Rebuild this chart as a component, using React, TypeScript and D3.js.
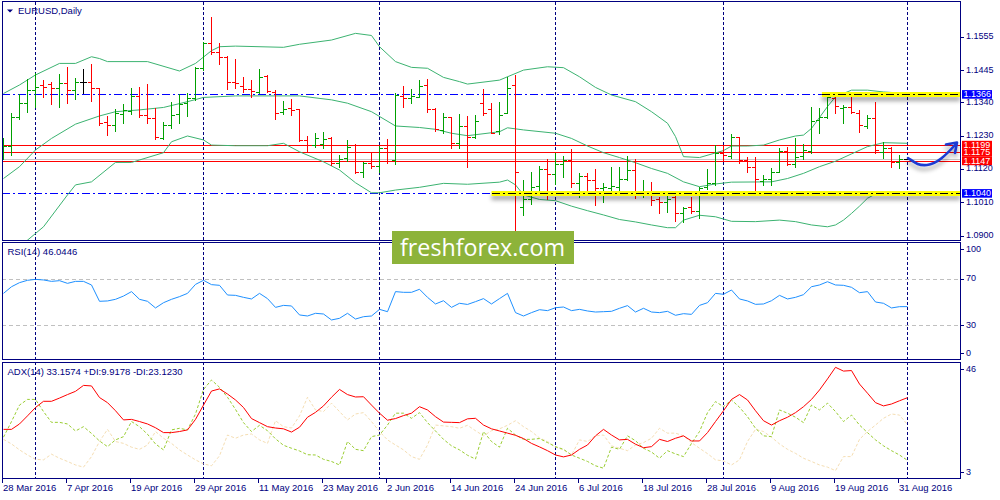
import { useEffect, useRef } from "react"
import * as d3 from "d3"

// EURUSD daily bars, 28 Mar 2016 .. 1 Sep 2016 (index 0..113)
const open = [
  1.1177, 1.1197, 1.129, 1.1337, 1.138, 1.1397, 1.14, 1.1386, 1.1402, 1.138,
  1.1408, 1.1408, 1.1386, 1.1276, 1.1265, 1.1301, 1.1312, 1.1361, 1.1298, 1.1287,
  1.1222, 1.1265, 1.1301, 1.1339, 1.1353, 1.1452, 1.1536, 1.1507, 1.1488, 1.1408,
  1.1394, 1.1383, 1.1374, 1.1427, 1.1375, 1.1309, 1.132, 1.1317, 1.1216, 1.1199,
  1.1203, 1.1221, 1.1141, 1.1155, 1.1198, 1.1111, 1.1139, 1.1131, 1.1191, 1.115,
  1.1361, 1.1353, 1.1358, 1.1396, 1.1317, 1.1249, 1.129, 1.1205, 1.1262, 1.1227,
  1.1339, 1.1317, 1.1246, 1.1306, 1.1397, 1.0996, 1.102, 1.1064, 1.1119, 1.1104,
  1.1137, 1.115, 1.1075, 1.1097, 1.1084, 1.1057, 1.1057, 1.106, 1.1089, 1.1117,
  1.1038, 1.1046, 1.102, 1.1013, 1.1027, 1.0974, 1.0994, 1.0983, 1.106, 1.1073,
  1.1174, 1.1163, 1.1225, 1.115, 1.1128, 1.1082, 1.1086, 1.1111, 1.1181, 1.1137,
  1.1163, 1.1181, 1.1282, 1.129, 1.1355, 1.132, 1.1326, 1.1306, 1.1262, 1.1287,
  1.1177, 1.1188, 1.1142, 1.1154,
]
const high = [
  1.1221, 1.1304, 1.1366, 1.1416, 1.1438, 1.1413, 1.1408, 1.1433, 1.1457, 1.1419,
  1.1451, 1.1466, 1.1388, 1.1295, 1.1317, 1.1334, 1.1386, 1.1389, 1.14, 1.132,
  1.1276, 1.1342, 1.1366, 1.1369, 1.1457, 1.154, 1.1622, 1.1534, 1.1492, 1.1481,
  1.1422, 1.1413, 1.145, 1.143, 1.138, 1.1344, 1.135, 1.1319, 1.1229, 1.124,
  1.1243, 1.1227, 1.1166, 1.1216, 1.1203, 1.1142, 1.1174, 1.1196, 1.1218, 1.1372,
  1.1394, 1.1383, 1.1413, 1.1416, 1.132, 1.1306, 1.1293, 1.1301, 1.1295, 1.1298,
  1.1383, 1.1337, 1.1341, 1.1424, 1.143, 1.1084, 1.1111, 1.113, 1.1152, 1.1174,
  1.1163, 1.1186, 1.1108, 1.1106, 1.1119, 1.1075, 1.1128, 1.1128, 1.1163, 1.1152,
  1.1084, 1.1078, 1.1027, 1.1042, 1.1038, 1.0996, 1.1027, 1.1062, 1.1119, 1.1199,
  1.1196, 1.1234, 1.1227, 1.1161, 1.1161, 1.11, 1.1122, 1.1188, 1.1194, 1.1221,
  1.1203, 1.1326, 1.132, 1.1367, 1.1364, 1.1331, 1.1358, 1.1315, 1.1298, 1.1342,
  1.121, 1.1194, 1.1166, 1.1156,
]
const low = [
  1.1152, 1.1168, 1.1284, 1.1309, 1.1326, 1.1358, 1.1334, 1.1326, 1.1339, 1.135,
  1.1372, 1.1345, 1.1265, 1.1232, 1.1246, 1.1271, 1.1301, 1.129, 1.1271, 1.1218,
  1.1218, 1.1254, 1.1273, 1.1295, 1.1348, 1.1446, 1.1499, 1.1466, 1.1384, 1.1386,
  1.1374, 1.1358, 1.1369, 1.1374, 1.1284, 1.1301, 1.1298, 1.1214, 1.1176, 1.1194,
  1.1188, 1.1133, 1.1126, 1.1148, 1.1108, 1.1095, 1.1122, 1.1111, 1.1139, 1.1136,
  1.1326, 1.1339, 1.1356, 1.1309, 1.1246, 1.124, 1.1188, 1.1188, 1.1128, 1.1221,
  1.1298, 1.1238, 1.1235, 1.1306, 1.0917, 1.0969, 1.1005, 1.1042, 1.102, 1.1071,
  1.1093, 1.106, 1.1027, 1.1038, 1.1002, 1.1013, 1.1049, 1.1051, 1.1084, 1.1024,
  1.1029, 1.1002, 1.0976, 1.098, 1.095, 1.0947, 1.0974, 1.0958, 1.1053, 1.1068,
  1.1148, 1.1155, 1.1141, 1.1111, 1.1042, 1.1068, 1.1068, 1.1109, 1.1133, 1.1128,
  1.1152, 1.1174, 1.124, 1.1287, 1.1304, 1.1271, 1.1304, 1.1243, 1.1254, 1.1174,
  1.1155, 1.1128, 1.1122, 1.1152,
]
const close = [
  1.1197, 1.129, 1.1337, 1.138, 1.1389, 1.1389, 1.1386, 1.1402, 1.138, 1.1408,
  1.1408, 1.1386, 1.1271, 1.1265, 1.1306, 1.1315, 1.1361, 1.1298, 1.1287, 1.1225,
  1.1265, 1.1298, 1.1334, 1.1353, 1.1452, 1.1536, 1.1507, 1.1488, 1.1408, 1.1405,
  1.1383, 1.1378, 1.1424, 1.1378, 1.1306, 1.1317, 1.1315, 1.1216, 1.1199, 1.1221,
  1.1218, 1.1139, 1.1152, 1.1194, 1.1111, 1.1139, 1.1131, 1.119, 1.1148, 1.1364,
  1.1355, 1.1361, 1.1394, 1.1317, 1.1251, 1.1293, 1.1205, 1.1262, 1.1227, 1.1279,
  1.1306, 1.124, 1.1298, 1.1386, 1.1109, 1.102, 1.1062, 1.1119, 1.1104, 1.1137,
  1.115, 1.1075, 1.1097, 1.1084, 1.1057, 1.1062, 1.1064, 1.1089, 1.1117, 1.1038,
  1.1046, 1.1018, 1.1013, 1.1022, 1.0976, 1.0991, 1.0983, 1.1057, 1.1073, 1.1174,
  1.1165, 1.1225, 1.115, 1.1128, 1.1086, 1.1089, 1.1111, 1.1181, 1.1137, 1.1161,
  1.1183, 1.1279, 1.129, 1.1358, 1.1328, 1.1326, 1.1309, 1.1265, 1.1287, 1.1183,
  1.1188, 1.1144, 1.1154, 1.1154,
]

// Bollinger bands: [bar index, price]
const bbUpper: [number, number][] = [
  [0, 1.1369], [2, 1.1397], [4, 1.143], [7, 1.1468], [9, 1.1468], [11, 1.149], [12, 1.1484],
  [13, 1.1474], [18, 1.1474], [22, 1.1443], [24, 1.1468], [26, 1.151], [27, 1.1523], [29, 1.1525],
  [35, 1.1521], [37, 1.1531], [41, 1.1545], [44, 1.1567], [46, 1.156], [47, 1.1523], [49, 1.1474],
  [51, 1.1455], [53, 1.1452], [55, 1.1422], [57, 1.1408], [58, 1.14], [62, 1.1413], [65, 1.1446],
  [68, 1.1457], [70, 1.1454], [72, 1.1424], [74, 1.1389], [76, 1.1364], [79, 1.1342], [81, 1.1309],
  [83, 1.1271], [84, 1.1227], [85, 1.1161], [87, 1.1158], [90, 1.1181], [91, 1.1196], [93, 1.1196],
  [95, 1.1199], [97, 1.1216], [99, 1.1229], [100, 1.1232], [101, 1.1254], [103, 1.1326],
  [104, 1.1358], [106, 1.138], [108, 1.138], [110, 1.1374], [113, 1.1369],
]
const bbMiddle: [number, number][] = [
  [0, 1.1089], [2, 1.1128], [4, 1.1183], [6, 1.1221], [9, 1.1268], [12, 1.1295], [14, 1.1309],
  [17, 1.1315], [20, 1.1323], [23, 1.1342], [25, 1.1356], [29, 1.1361], [37, 1.1361], [41, 1.1348],
  [43, 1.1337], [46, 1.1309], [49, 1.1262], [52, 1.1257], [54, 1.1251], [56, 1.1238], [58, 1.123],
  [62, 1.1243], [63, 1.1256], [65, 1.1249], [69, 1.1238], [71, 1.1221], [73, 1.1196], [75, 1.1174],
  [77, 1.1158], [79, 1.1141], [81, 1.1122], [83, 1.1106], [85, 1.1078], [87, 1.1062], [89, 1.1071],
  [91, 1.1077], [96, 1.1078], [98, 1.1089], [100, 1.1106], [102, 1.1128], [104, 1.1146],
  [106, 1.117], [108, 1.1194], [110, 1.1207], [113, 1.1205],
]
const bbLower: [number, number][] = [
  [0, 1.0826], [3, 1.0886], [5, 1.093], [8, 1.1035], [9, 1.1068], [11, 1.1078], [14, 1.1142],
  [16, 1.1142], [17, 1.115], [20, 1.1174], [21, 1.121], [23, 1.1229], [25, 1.1216], [26, 1.1199],
  [29, 1.1197], [33, 1.1197], [35, 1.1205], [37, 1.1177], [40, 1.1144], [42, 1.1117], [44, 1.1075],
  [46, 1.1042], [47, 1.1042], [49, 1.1051], [52, 1.106], [55, 1.1073], [58, 1.107], [62, 1.1077],
  [63, 1.1084], [64, 1.1068], [65, 1.1035], [67, 1.102], [69, 1.1016], [71, 1.0998], [73, 1.0983],
  [75, 1.0969], [77, 1.0954], [79, 1.0946], [81, 1.0936], [83, 1.0927], [84, 1.0927], [85, 1.0952],
  [87, 1.0968], [89, 1.0963], [91, 1.0948], [94, 1.0947], [97, 1.0952], [99, 1.0947], [101, 1.0936],
  [103, 1.093], [104, 1.0936], [105, 1.0952], [106, 1.0974], [107, 1.0998], [108, 1.1024],
  [109, 1.1038], [110, 1.1044], [113, 1.104],
]

const rsi = [
  57.4, 63.1, 66.6, 68.6, 69.4, 68.9, 67.7, 68.3, 66.0, 67.7,
  67.7, 64.6, 50.6, 50.9, 52.3, 55.1, 58.9, 52.3, 50.6, 44.9,
  49.4, 52.3, 54.6, 57.4, 65.1, 68.6, 64.9, 64.3, 56.0, 55.7,
  54.0, 52.6, 57.4, 52.9, 45.4, 47.1, 46.6, 38.9, 38.0, 40.3,
  39.7, 34.6, 36.0, 40.3, 35.4, 37.4, 38.0, 43.7, 41.7, 58.9,
  58.3, 58.3, 60.9, 54.0, 48.3, 51.1, 45.4, 48.9, 47.9, 50.3,
  52.9, 48.3, 52.9, 57.4, 40.9, 38.0, 40.9, 43.4, 42.6, 45.1,
  45.7, 42.6, 43.7, 42.3, 41.4, 41.7, 42.0, 44.6, 46.9, 41.4,
  44.6, 41.4, 40.9, 42.0, 38.6, 40.0, 39.4, 47.1, 49.4, 57.4,
  56.6, 60.3, 52.6, 50.9, 48.0, 48.3, 51.1, 55.7, 52.6, 54.0,
  56.3, 63.1, 64.6, 67.4, 64.6, 64.3, 62.6, 58.0, 58.9, 50.0,
  48.9, 44.9, 46.0, 46.0446,
]
const adx = [
  21.4, 21.4, 23.4, 26.4, 29.5, 31.8, 31.8, 33.0, 34.3, 35.5,
  37.7, 37.5, 33.2, 31.3, 28.3, 24.9, 25.1, 24.3, 23.4, 22.0,
  20.2, 20.2, 20.6, 21.2, 25.1, 30.4, 35.6, 36.4, 34.5, 32.3,
  29.5, 25.4, 23.9, 22.4, 21.9, 21.6, 20.4, 22.2, 25.9, 27.7,
  30.1, 33.3, 36.2, 34.3, 33.4, 33.5, 30.4, 27.4, 24.8, 25.4,
  26.5, 27.4, 29.8, 28.6, 26.1, 24.1, 24.0, 23.9, 25.3, 25.5,
  23.0, 21.6, 20.8, 20.0, 19.2, 18.0, 16.2, 14.9, 13.5, 11.9,
  11.2, 11.9, 14.0, 15.6, 19.0, 21.4, 19.3, 17.5, 17.7, 15.9,
  14.6, 15.0, 17.7, 16.9, 18.1, 19.0, 17.1, 17.1, 20.2, 24.3,
  28.3, 32.5, 34.3, 32.3, 28.3, 24.6, 23.0, 24.6, 25.9, 27.6,
  29.8, 32.5, 36.0, 40.1, 44.4, 43.0, 43.2, 38.2, 34.8, 31.3,
  30.1, 30.8, 32.0, 33.1574,
]
const plusDi = [
  18.5, 24.3, 30.4, 32.5, 32.5, 28.0, 24.0, 24.0, 23.4, 20.8,
  22.4, 19.9, 17.1, 15.0, 17.5, 18.7, 24.3, 22.4, 19.6, 16.0,
  13.8, 21.2, 21.8, 21.2, 27.1, 36.2, 39.7, 37.0, 33.3, 28.8,
  23.9, 20.6, 22.9, 20.9, 17.9, 15.5, 14.4, 13.4, 12.0, 11.9,
  10.3, 9.5, 8.2, 16.9, 14.0, 13.5, 18.7, 19.3, 23.0, 27.4,
  27.4, 25.5, 27.6, 23.9, 20.8, 17.7, 15.3, 13.8, 11.8, 10.4,
  20.6, 16.9, 14.8, 21.8, 19.3, 17.7, 17.7, 18.0, 16.5, 15.0,
  14.0, 11.9, 10.7, 9.5, 7.9, 7.0, 14.8, 14.0, 19.0, 17.2,
  14.4, 13.0, 10.7, 13.5, 12.3, 11.3, 16.2, 20.6, 27.6, 31.7,
  29.8, 32.3, 29.6, 26.1, 21.8, 19.0, 18.7, 28.6, 27.4, 25.9,
  23.9, 30.4, 28.6, 31.1, 28.0, 24.3, 26.7, 23.0, 20.2, 17.5,
  15.3, 13.5, 11.9, 9.9178,
]
const minusDi = [
  17.7, 16.0, 13.8, 11.9, 10.3, 10.1, 12.2, 10.7, 9.5, 8.2,
  7.4, 11.3, 16.9, 21.4, 16.9, 16.2, 14.8, 14.0, 15.6, 20.6,
  18.1, 16.2, 13.8, 11.9, 10.1, 8.6, 7.9, 11.6, 19.3, 18.1,
  19.3, 19.7, 17.5, 16.2, 24.6, 22.4, 21.9, 26.4, 33.3, 28.6,
  28.0, 31.1, 28.0, 24.9, 27.1, 27.6, 24.3, 20.6, 17.5, 15.6,
  13.8, 11.3, 10.3, 15.6, 23.0, 22.7, 22.4, 21.8, 22.9, 20.9,
  19.0, 20.9, 21.6, 22.9, 24.6, 22.4, 20.6, 18.2, 16.9, 14.8,
  13.8, 11.9, 17.5, 16.9, 19.0, 19.3, 15.3, 14.4, 13.5, 15.6,
  16.5, 18.1, 21.8, 20.0, 20.0, 19.0, 16.5, 14.4, 12.4, 10.1,
  9.7, 8.2, 10.1, 16.9, 21.4, 20.6, 18.5, 16.0, 14.0, 12.5,
  10.7, 9.5, 8.2, 7.4, 6.1, 11.3, 11.3, 17.7, 20.6, 23.0,
  25.5, 27.1, 26.7, 23.123,
]

const dateLabels = [
  "28 Mar 2016", "7 Apr 2016", "19 Apr 2016", "29 Apr 2016", "11 May 2016",
  "23 May 2016", "2 Jun 2016", "14 Jun 2016", "24 Jun 2016", "6 Jul 2016",
  "18 Jul 2016", "28 Jul 2016", "9 Aug 2016", "19 Aug 2016", "31 Aug 2016",
]
const monthStarts = [4, 25, 47, 69, 90, 113]
const priceTicks = [1.1555, 1.1445, 1.134, 1.123, 1.112, 1.101, 1.09]
const rsiTicks = [100, 70, 30, 0]
const rsiLevels = [70, 30]
const adxTicks = [46, 3]
const blueLevels = [1.1366, 1.104]
const redLevels = [1.1199, 1.1175, 1.1147]
const bidPrice = 1.1154
// yellow marker over a level: [price, first bar]
const highlights: [number, number][] = [[1.1366, 102.3], [1.104, 61]]

export default function App() {
  const svgRef = useRef<SVGSVGElement>(null)

  useEffect(() => {
    if (!svgRef.current) return
    document.body.style.margin = "0"

    const svg = d3.select(svgRef.current)
    svg.selectAll("*").remove()

    const left = 2
    const right = 960
    const navy = "#000080"
    const font = "'Liberation Sans', Arial, sans-serif"
    const idx = d3.range(open.length)

    const x = d3.scaleLinear().domain([0, 113]).range([3.5, 907.5])
    const yPrice = d3.scaleLinear().domain([1.09, 1.1555]).range([235.9, 37])
    const yRsi = d3.scaleLinear().domain([0, 100]).range([360.3, 243.7])
    const yAdx = d3.scaleLinear().domain([3, 46]).range([479, 363])
    const px = (v: number) => Math.round(v) + 0.5

    const panels = [
      { id: "clipMain", top: 2, bottom: 240 },
      { id: "clipRsi", top: 243, bottom: 359 },
      { id: "clipAdx", top: 363, bottom: 478 },
    ]

    const defs = svg.append("defs")
    panels.forEach((p) => {
      defs
        .append("clipPath")
        .attr("id", p.id)
        .append("rect")
        .attr("x", left + 1)
        .attr("y", p.top)
        .attr("width", right - left - 1)
        .attr("height", p.bottom - p.top)
    })
    const shadow = defs
      .append("filter")
      .attr("id", "shadow")
      .attr("x", "-10%")
      .attr("y", "-100%")
      .attr("width", "120%")
      .attr("height", "400%")
    shadow
      .append("feDropShadow")
      .attr("dx", 0)
      .attr("dy", 4)
      .attr("stdDeviation", 2)
      .attr("flood-color", "#000")
      .attr("flood-opacity", 0.35)

    svg.append("rect").attr("width", 1000).attr("height", 500).attr("fill", "#fff")

    // month separators
    svg
      .append("g")
      .attr("shape-rendering", "crispEdges")
      .selectAll("line")
      .data(monthStarts)
      .join("line")
      .attr("x1", (d) => x(d))
      .attr("x2", (d) => x(d))
      .attr("y1", 2)
      .attr("y2", 479)
      .attr("stroke", navy)
      .attr("stroke-dasharray", "3,2")

    // ---------- price panel ----------
    const gMain = svg.append("g").attr("clip-path", "url(#clipMain)")

    gMain
      .append("line")
      .attr("x1", left)
      .attr("x2", right)
      .attr("y1", px(yPrice(bidPrice)))
      .attr("y2", px(yPrice(bidPrice)))
      .attr("stroke", "#c8c8c8")
      .attr("shape-rendering", "crispEdges")

    gMain
      .selectAll(".blue")
      .data(blueLevels)
      .join("line")
      .attr("x1", left)
      .attr("x2", right)
      .attr("y1", (d) => px(yPrice(d)))
      .attr("y2", (d) => px(yPrice(d)))
      .attr("stroke", "#0000ff")
      .attr("stroke-dasharray", "8,3,2,3")
      .attr("shape-rendering", "crispEdges")

    gMain
      .selectAll(".red")
      .data(redLevels)
      .join("line")
      .attr("x1", left)
      .attr("x2", right)
      .attr("y1", (d) => px(yPrice(d)))
      .attr("y2", (d) => px(yPrice(d)))
      .attr("stroke", "#ff0000")
      .attr("shape-rendering", "crispEdges")

    const band = d3
      .line<[number, number]>()
      .x((d) => x(d[0]))
      .y((d) => yPrice(d[1]))
    ;[bbUpper, bbMiddle, bbLower].forEach((b) => {
      gMain.append("path").attr("d", band(b)).attr("fill", "none").attr("stroke", "#3cb371").attr("stroke-width", 1)
    })

    const barColor = (i: number) => (close[i] > open[i] ? "#00a000" : close[i] < open[i] ? "#ff0000" : "#000000")
    const gBars = gMain.append("g").attr("shape-rendering", "crispEdges")
    gBars
      .selectAll(".hl")
      .data(idx)
      .join("rect")
      .attr("x", (i) => x(i) - 0.5)
      .attr("width", 1)
      .attr("y", (i) => Math.round(yPrice(high[i])))
      .attr("height", (i) => Math.round(yPrice(low[i])) - Math.round(yPrice(high[i])) + 1)
      .attr("fill", barColor)
    gBars
      .selectAll(".op")
      .data(idx)
      .join("rect")
      .attr("x", (i) => x(i) - 3.5)
      .attr("width", 3)
      .attr("y", (i) => Math.round(yPrice(open[i])))
      .attr("height", 1)
      .attr("fill", barColor)
    gBars
      .selectAll(".cl")
      .data(idx)
      .join("rect")
      .attr("x", (i) => x(i) + 0.5)
      .attr("width", 3)
      .attr("y", (i) => Math.round(yPrice(close[i])))
      .attr("height", 1)
      .attr("fill", barColor)

    // yellow markers with their shadow
    highlights.forEach(([price, from]) => {
      const yy = px(yPrice(price))
      gMain
        .append("rect")
        .attr("x", x(from))
        .attr("y", yy - 2.5)
        .attr("width", right - x(from))
        .attr("height", 5)
        .attr("fill", "#ffff00")
        .attr("filter", "url(#shadow)")
      gMain
        .append("line")
        .attr("x1", x(from))
        .attr("x2", right)
        .attr("y1", yy)
        .attr("y2", yy)
        .attr("stroke", "#000")
        .attr("stroke-dasharray", "8,3,2,3")
        .attr("shape-rendering", "crispEdges")
    })

    // hand drawn forecast arrow
    const arrow = gMain
      .append("g")
      .attr("fill", "none")
      .attr("stroke", "#1c3bd2")
      .attr("stroke-width", 2.6)
      .attr("stroke-linecap", "round")
      .attr("stroke-linejoin", "round")
      .attr("filter", "url(#shadow)")
    arrow.append("path").attr("d", "M908,158 C914,162 918,166 927,165 C937,164 946,155 956,144")
    arrow.append("path").attr("d", "M946,144.5 L957,142.5 L955,153")

    // ---------- RSI panel ----------
    const gRsi = svg.append("g").attr("clip-path", "url(#clipRsi)")
    gRsi
      .selectAll("line")
      .data(rsiLevels)
      .join("line")
      .attr("x1", left)
      .attr("x2", right)
      .attr("y1", (d) => px(yRsi(d)))
      .attr("y2", (d) => px(yRsi(d)))
      .attr("stroke", "#c0c0c0")
      .attr("stroke-dasharray", "4,3")
      .attr("shape-rendering", "crispEdges")
    gRsi
      .append("path")
      .attr(
        "d",
        d3
          .line<number>()
          .x((_, i) => x(i))
          .y((d) => yRsi(d))(rsi)
      )
      .attr("fill", "none")
      .attr("stroke", "#1e90ff")

    // ---------- ADX panel ----------
    const gAdx = svg.append("g").attr("clip-path", "url(#clipAdx)")
    const adxLine = d3
      .line<number>()
      .x((_, i) => x(i))
      .y((d) => yAdx(d))
    gAdx.append("path").attr("d", adxLine(minusDi)).attr("fill", "none").attr("stroke", "#f5deb3").attr("stroke-dasharray", "3,2")
    gAdx.append("path").attr("d", adxLine(plusDi)).attr("fill", "none").attr("stroke", "#9acd32").attr("stroke-dasharray", "3,2")
    gAdx.append("path").attr("d", adxLine(adx)).attr("fill", "none").attr("stroke", "#ff0000")

    // ---------- frames ----------
    const frame = svg.append("g").attr("fill", "none").attr("stroke", navy).attr("shape-rendering", "crispEdges")
    ;[
      [1.5, 240.5],
      [242.5, 359.5],
      [362.5, 478.5],
    ].forEach(([t, b]) => {
      frame
        .append("rect")
        .attr("x", left + 0.5)
        .attr("y", t)
        .attr("width", right - left)
        .attr("height", b - t)
    })

    // ---------- right axis ----------
    const axis = svg.append("g").attr("font-family", font).attr("font-size", 9).attr("fill", navy)
    const tick = (yy: number) =>
      axis
        .append("line")
        .attr("x1", right)
        .attr("x2", right + 4)
        .attr("y1", px(yy))
        .attr("y2", px(yy))
        .attr("stroke", navy)
        .attr("shape-rendering", "crispEdges")
    const label = (yy: number, t: string) =>
      axis.append("text").attr("x", 966).attr("y", yy).attr("dominant-baseline", "middle").text(t)

    priceTicks.forEach((p) => {
      tick(yPrice(p))
      label(yPrice(p), p.toFixed(4))
    })
    rsiTicks.forEach((v) => {
      const yy = Math.min(Math.max(yRsi(v), 249.3), 353.3)
      tick(yy)
      label(yy, String(v))
    })
    adxTicks.forEach((v) => {
      const yy = Math.min(Math.max(yAdx(v), 369.3), 472.3)
      tick(yy)
      label(yy, String(v))
    })

    const priceBox = (price: number, color: string) => {
      const yy = yPrice(price)
      axis.append("rect").attr("x", 962).attr("y", yy - 4.3).attr("width", 30).attr("height", 8.6).attr("fill", color)
      axis
        .append("text")
        .attr("x", 963.5)
        .attr("y", yy + 0.3)
        .attr("dominant-baseline", "middle")
        .attr("fill", "#fff")
        .text(price.toFixed(4))
    }
    blueLevels.forEach((p) => priceBox(p, "#0000ff"))
    redLevels.forEach((p) => priceBox(p, "#ff0000"))

    // ---------- time axis ----------
    const tAxis = svg.append("g").attr("font-family", font).attr("font-size", 9.5).attr("fill", navy)
    tAxis
      .selectAll("line")
      .data(dateLabels)
      .join("line")
      .attr("x1", (_, k) => x(k * 8) - 1)
      .attr("x2", (_, k) => x(k * 8) - 1)
      .attr("y1", 479)
      .attr("y2", 483)
      .attr("stroke", navy)
      .attr("shape-rendering", "crispEdges")
    tAxis
      .selectAll("text")
      .data(dateLabels)
      .join("text")
      .attr("x", (_, k) => x(k * 8) - 0.5)
      .attr("y", 491)
      .text((d) => d)

    // ---------- panel captions ----------
    const cap = svg.append("g").attr("font-family", font).attr("font-size", 9.5).attr("fill", navy)
    cap.append("path").attr("d", "M7,9.5 L13,9.5 L10,12.5 Z").attr("fill", navy)
    cap.append("text").attr("x", 18).attr("y", 11).attr("dominant-baseline", "middle").text("EURUSD,Daily")
    cap.append("text").attr("x", 7.5).attr("y", 252).attr("dominant-baseline", "middle").text("RSI(14) 46.0446")
    cap
      .append("text")
      .attr("x", 7.5)
      .attr("y", 372)
      .attr("dominant-baseline", "middle")
      .text("ADX(14) 33.1574 +DI:9.9178 -DI:23.1230")

    // ---------- watermark ----------
    svg.append("rect").attr("x", 392).attr("y", 231).attr("width", 182).attr("height", 33).attr("fill", "#8db33a")
    svg
      .append("text")
      .attr("x", 400)
      .attr("y", 256)
      .attr("font-family", "'Open Sans', sans-serif")
      .attr("font-size", 24)
      .attr("fill", "#fff")
      .attr("textLength", 165)
      .attr("lengthAdjust", "spacingAndGlyphs")
      .text("freshforex.com")
  }, [])

  return (
    <svg
      ref={svgRef}
      width={1000}
      height={500}
      style={{ position: "absolute", left: 0, top: 0, display: "block" }}
    ></svg>
  )
}
